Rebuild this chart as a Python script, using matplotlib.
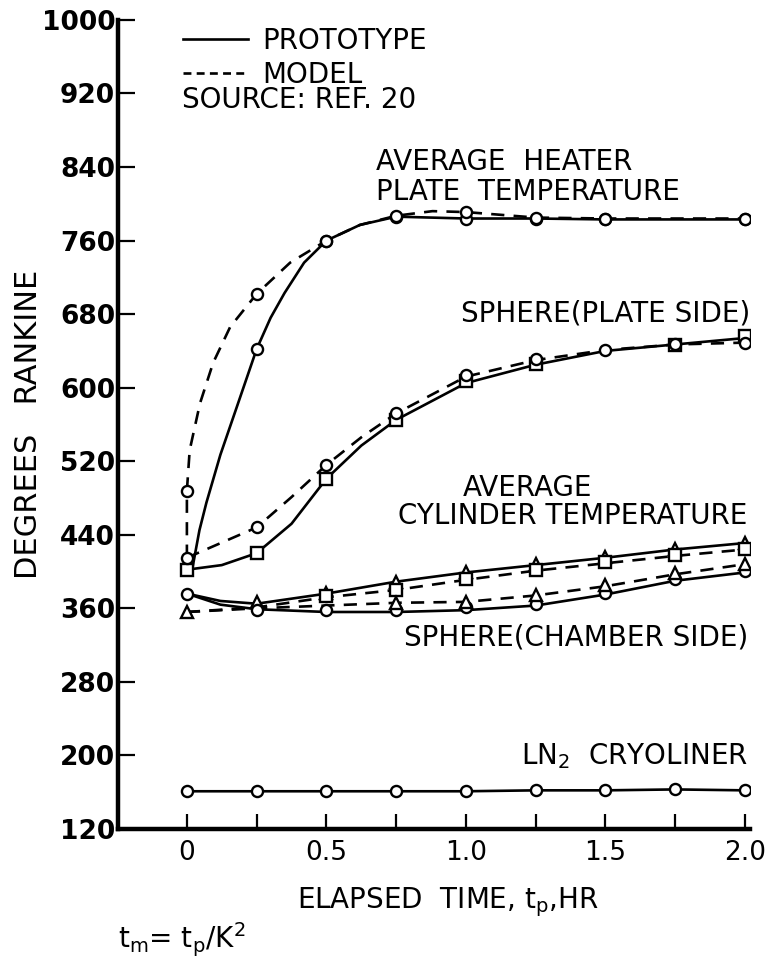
import matplotlib
matplotlib.use("Agg")
import matplotlib.pyplot as plt
from matplotlib.lines import Line2D

plt.rcParams['font.family'] = ['DejaVu Sans']
plt.rcParams['mathtext.default'] = 'regular'

# x ticks (hours) and y ticks (deg R)
x_ticks = [0, 0.25, 0.5, 0.75, 1.0, 1.25, 1.5, 1.75, 2.0]
x_tick_labels = ['0', '', '0.5', '', '1.0', '', '1.5', '', '2.0']
y_ticks = [120, 200, 280, 360, 440, 520, 600, 680, 760, 840, 920, 1000]

# average heater plate temperature
heater_proto_t = [0.25, 0.5, 0.75, 1.0, 1.25, 1.5, 2.0]
heater_proto_T = [642, 760, 786, 783, 784, 783, 783]
heater_proto_line_t = [0.02, 0.045, 0.07, 0.12, 0.18, 0.25, 0.3, 0.35, 0.42, 0.5, 0.62, 0.75, 1.0, 1.25, 1.5, 2.0]
heater_proto_line_T = [404, 445, 475, 527, 580, 642, 676, 703, 736, 760, 777, 786, 784, 784, 783, 783]
heater_model_t = [0.0, 0.25, 0.5, 0.75, 1.0, 1.25, 1.5, 2.0]
heater_model_T = [488, 702, 760, 787, 791, 785, 784, 784]
heater_model_line_t = [0.0, 0.0, 0.01, 0.047, 0.094, 0.155, 0.25, 0.37, 0.5, 0.62, 0.75, 0.88, 1.0, 1.25, 1.5, 2.0]
heater_model_line_T = [415, 488, 532, 583, 627, 666, 702, 736, 760, 777, 787, 792, 791, 785, 784, 784]

# sphere (plate side)
plate_proto_t = [0.0, 0.25, 0.5, 0.75, 1.0, 1.25, 1.75, 2.0]
plate_proto_T = [402, 420, 501, 565, 607, 626, 646, 656]
plate_proto_line_t = [0.0, 0.125, 0.25, 0.375, 0.5, 0.625, 0.75, 1.0, 1.25, 1.5, 1.75, 2.0]
plate_proto_line_T = [402, 407, 420, 452, 501, 537, 565, 605, 625, 640, 647, 654]
plate_model_t = [0.0, 0.25, 0.5, 0.75, 1.0, 1.25, 1.5, 1.75, 2.0]
plate_model_T = [415, 448, 516, 572, 614, 631, 641, 647, 649]
plate_model_line_t = [0.0, 0.25, 0.375, 0.5, 0.625, 0.75, 1.0, 1.25, 1.5, 1.75, 2.0]
plate_model_line_T = [415, 448, 481, 516, 546, 572, 612, 630, 641, 647, 649]

# average cylinder temperature
cyl_proto_t = [0.25, 0.5, 0.75, 1.0, 1.25, 1.5, 1.75, 2.0]
cyl_proto_T = [367, 377, 389, 400, 408, 416, 425, 431]
cyl_proto_line_t = [0.0, 0.12, 0.25, 0.5, 0.75, 1.0, 1.25, 1.5, 1.75, 2.0]
cyl_proto_line_T = [376, 368, 365, 376, 389, 399, 407, 415, 424, 431]
cyl_model_t = [0.5, 0.75, 1.0, 1.25, 1.5, 1.75, 2.0]
cyl_model_T = [373, 380, 392, 402, 410, 418, 425]
cyl_model_line_t = [0.0, 0.25, 0.5, 0.75, 1.0, 1.25, 1.5, 1.75, 2.0]
cyl_model_line_T = [356, 361, 372, 380, 391, 401, 409, 417, 424]

# sphere (chamber side)
chamber_proto_t = [0.0, 0.25, 0.5, 0.75, 1.0, 1.25, 1.5, 1.75, 2.0]
chamber_proto_T = [376, 358, 358, 358, 361, 365, 377, 392, 401]
chamber_proto_line_t = [0.0, 0.12, 0.25, 0.5, 0.75, 1.0, 1.25, 1.5, 1.75, 2.0]
chamber_proto_line_T = [376, 364, 359, 356, 356, 358, 363, 375, 390, 399]
chamber_model_t = [0.0, 0.75, 1.0, 1.25, 1.5, 1.75, 2.0]
chamber_model_T = [356, 366, 367, 375, 385, 398, 408]
chamber_model_line_t = [0.0, 0.25, 0.5, 0.75, 1.0, 1.25, 1.5, 1.75, 2.0]
chamber_model_line_T = [356, 360, 363, 366, 367, 374, 384, 397, 408]

# LN2 cryoliner
ln2_t = [0, 0.25, 0.5, 0.75, 1.0, 1.25, 1.5, 1.75, 2.0]
ln2_T = [161, 161, 161, 161, 161, 162, 162, 163, 162]

LW = 1.9
DASH = (0, (5, 3.5))
mk = dict(mfc='white', mec='black', mew=1.7, ms=8, ls='none', zorder=4)
FS = 20

fig = plt.figure(figsize=(7.68, 9.58), dpi=100)
ax = fig.add_axes([0.1536, 0.1347, 0.823, 0.8445])

# lines
ax.plot(heater_proto_line_t, heater_proto_line_T, 'k-', lw=LW)
ax.plot(heater_model_line_t, heater_model_line_T, 'k', ls=DASH, lw=LW)
ax.plot(plate_proto_line_t, plate_proto_line_T, 'k-', lw=LW)
ax.plot(plate_model_line_t, plate_model_line_T, 'k', ls=DASH, lw=LW)
ax.plot(cyl_proto_line_t, cyl_proto_line_T, 'k-', lw=LW)
ax.plot(cyl_model_line_t, cyl_model_line_T, 'k', ls=DASH, lw=LW)
ax.plot(chamber_proto_line_t, chamber_proto_line_T, 'k-', lw=LW)
ax.plot(chamber_model_line_t, chamber_model_line_T, 'k', ls=DASH, lw=LW)
ax.plot(ln2_t, ln2_T, 'k-', lw=LW)

# markers
ax.plot(heater_proto_t, heater_proto_T, marker='o', **mk)
ax.plot(heater_model_t, heater_model_T, marker='o', **mk)
ax.plot(plate_proto_t, plate_proto_T, marker='s', **mk)
ax.plot(plate_model_t, plate_model_T, marker='o', **mk)
ax.plot(cyl_proto_t, cyl_proto_T, marker='^', **mk)
ax.plot(cyl_model_t, cyl_model_T, marker='s', **mk)
ax.plot(chamber_proto_t, chamber_proto_T, marker='o', **mk)
ax.plot(chamber_model_t, chamber_model_T, marker='^', **mk)
ax.plot(ln2_t, ln2_T, marker='o', **mk)

ax.set_xlim(-0.247, 2.018)
ax.set_ylim(120, 1000)
for s in ['top', 'right']:
    ax.spines[s].set_visible(False)
for s in ['left', 'bottom']:
    ax.spines[s].set_linewidth(3.2)
ax.set_xticks(x_ticks)
ax.set_xticklabels(x_tick_labels)
ax.set_yticks(y_ticks)
ax.tick_params(axis='both', direction='in', width=1.6, labelsize=19)
ax.tick_params(axis='x', length=11, pad=8)
ax.tick_params(axis='y', length=12, pad=2)
for lab in ax.get_yticklabels():
    lab.set_fontweight('bold')

ax.set_xlabel('ELAPSED  TIME, t$_p$,HR', fontsize=FS)
ax.xaxis.set_label_coords(0.522, -0.07)
ax.set_ylabel('DEGREES   RANKINE', fontsize=22)
ax.yaxis.set_label_coords(-0.118, 0.5)

handles = [Line2D([], [], color='k', lw=LW),
           Line2D([], [], color='k', lw=LW, ls=(0, (3, 2)))]
ax.legend(handles, ['PROTOTYPE', 'MODEL'], loc='upper left',
          bbox_to_anchor=(0.085, 1.005), frameon=False, fontsize=FS,
          handlelength=2.35, handletextpad=0.5, labelspacing=0.2,
          borderaxespad=0)
ax.text(-0.018, 913, 'SOURCE: REF. 20', fontsize=FS, va='center')

tk = dict(fontsize=FS, va='center')
ax.text(0.677, 845, 'AVERAGE  HEATER', **tk)
ax.text(0.677, 813, 'PLATE  TEMPERATURE', **tk)
ax.text(2.018, 681, 'SPHERE(PLATE SIDE)', ha='right', **tk)
ax.text(1.22, 491, 'AVERAGE', ha='center', **tk)
ax.text(2.01, 460, 'CYLINDER TEMPERATURE', ha='right', **tk)
ax.text(2.01, 328, 'SPHERE(CHAMBER SIDE)', ha='right', **tk)
ax.text(2.01, 199, 'LN$_2$  CRYOLINER', ha='right', **tk)

fig.text(0.153, 0.019, 't$_m$= t$_p$/K$^2$', fontsize=FS, va='center')

fig.savefig('out.png', dpi=100)
